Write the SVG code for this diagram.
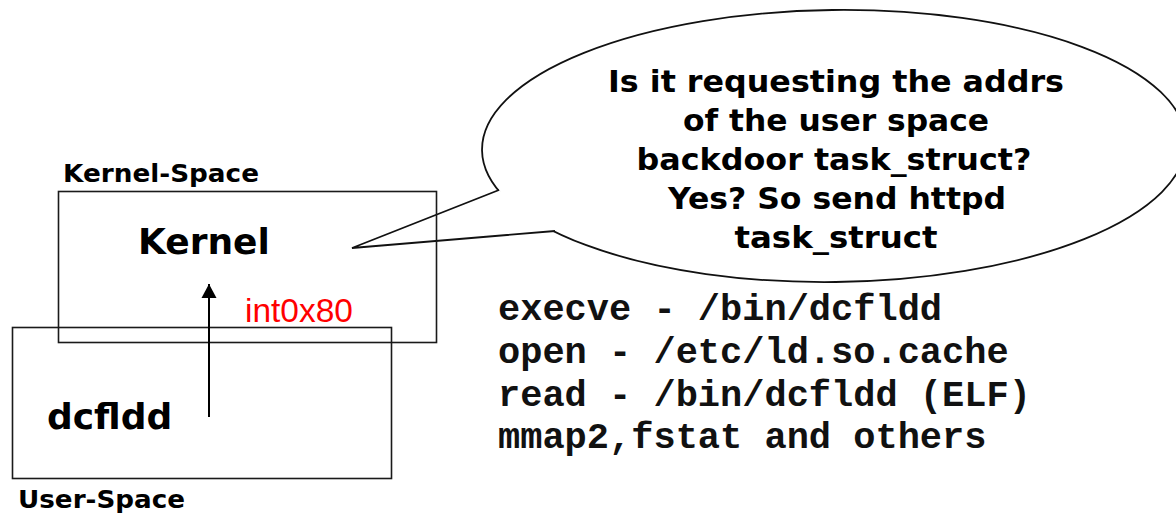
<svg xmlns="http://www.w3.org/2000/svg" width="1176" height="513" viewBox="0 0 1176 513">
  <style>
    .box { fill: none; stroke: #1a1a1a; stroke-width: 1.6; }
    .outline { fill: none; stroke: #111; stroke-width: 1.8; stroke-linejoin: miter; }
    .label { font-family: "DejaVu Sans", Verdana, sans-serif; font-weight: bold; fill: #000; }
    .big { font-size: 36px; }
    .space { font-size: 25px; }
    .bubble-text { font-size: 31px; text-anchor: middle; }
    .mono { font-family: "Liberation Mono", "Courier New", monospace; font-weight: bold; font-size: 37px; fill: #111; }
    .conn { stroke: #000; stroke-width: 2; fill: none; }
  </style>
  <defs>
    <marker id="arrowhead" markerUnits="userSpaceOnUse" markerWidth="16" markerHeight="16" refX="14" refY="8" orient="auto">
      <path d="M0,0.5 L14,8 L0,15.5 Z" fill="#000"/>
    </marker>
  </defs>

  <rect width="1176" height="513" fill="#fff"/>

  <!-- Speech bubble pointing at the kernel -->
  <g id="bubble">
    <ellipse class="outline" cx="834" cy="146" rx="352" ry="136" transform="rotate(-0.7 834 146)"/>
    <!-- tail: white wedge hides the ellipse arc between the two joints -->
    <polygon points="352,248 499,190 530,209 555,231" fill="#fff" stroke="none"/>
    <polyline class="outline" points="499,190 352,248 555,231"/>
    <text class="label bubble-text" x="836" y="92" textLength="456" lengthAdjust="spacingAndGlyphs">Is it requesting the addrs</text>
    <text class="label bubble-text" x="836" y="131" textLength="306" lengthAdjust="spacingAndGlyphs">of the user space</text>
    <text class="label bubble-text" x="834" y="170" textLength="395" lengthAdjust="spacingAndGlyphs">backdoor task_struct?</text>
    <text class="label bubble-text" x="837" y="209" textLength="338" lengthAdjust="spacingAndGlyphs">Yes? So send httpd</text>
    <text class="label bubble-text" x="836" y="248" textLength="203" lengthAdjust="spacingAndGlyphs">task_struct</text>
  </g>

  <!-- Kernel space -->
  <g id="kernel-space">
    <text class="label space" x="63" y="182" textLength="196" lengthAdjust="spacingAndGlyphs">Kernel-Space</text>
    <rect class="box" x="58.5" y="191.5" width="378" height="151"/>
    <text class="label big" x="138" y="254">Kernel</text>
  </g>

  <!-- User space -->
  <g id="user-space">
    <rect class="box" x="12.5" y="327.5" width="379" height="151"/>
    <text class="label big" x="47" y="429">dcfldd</text>
    <text class="label space" x="18" y="508" textLength="167" lengthAdjust="spacingAndGlyphs">User-Space</text>
  </g>

  <!-- System call trace -->
  <g id="syscalls">
    <text class="mono" x="498" y="320">execve - /bin/dcfldd</text>
    <text class="mono" x="498" y="363">open - /etc/ld.so.cache</text>
    <text class="mono" x="498" y="406">read - /bin/dcfldd (ELF)</text>
    <text class="mono" x="498" y="448">mmap2,fstat and others</text>
  </g>

  <!-- Connectors -->
  <g id="connectors">
    <line class="conn" x1="209" y1="417" x2="209" y2="284" marker-end="url(#arrowhead)"/>
    <text x="245" y="322" font-family="Liberation Sans, Arial, sans-serif" font-size="33" fill="#ff0000" textLength="108" lengthAdjust="spacingAndGlyphs">int0x80</text>
  </g>
</svg>
